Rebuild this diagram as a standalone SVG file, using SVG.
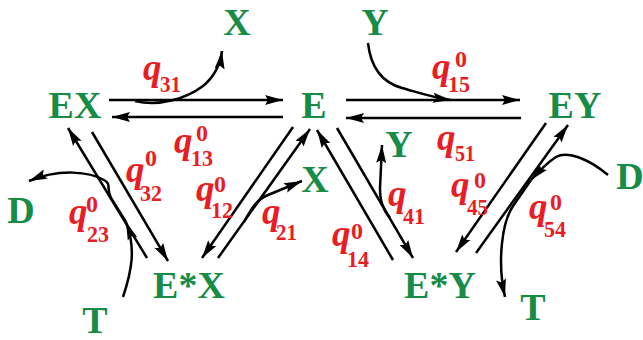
<svg xmlns="http://www.w3.org/2000/svg" width="643" height="340" viewBox="0 0 643 340">
<defs>
<marker id="ah" markerUnits="userSpaceOnUse" markerWidth="20" markerHeight="12" refX="18" refY="5" orient="auto" overflow="visible">
<path d="M0,0 L18,5 L0,10 L3,5 z" fill="#000"/>
</marker>
<style>
.n{font-family:"Liberation Serif","Times New Roman",serif;font-weight:bold;font-size:38px;fill:#178c47;text-anchor:middle}
.q{font-family:"Liberation Serif","Times New Roman",serif;font-weight:bold;font-style:italic;font-size:37px;fill:#ea1c24}
.s{font-family:"Liberation Serif","Times New Roman",serif;font-weight:bold;font-size:24px;fill:#ea1c24}
.c path{fill:none;stroke:#000;stroke-width:2.5}
.a{marker-end:url(#ah)}
</style>
</defs>
<rect width="643" height="340" fill="#fff"/>
<g id="connectors" class="c">
<path class="a" d="M109,100 L283,100"/>
<path class="a" d="M283,117 L112,117"/>
<path class="a" d="M346,100 L520,100"/>
<path class="a" d="M521,118 L346,118"/>
<path class="a" d="M147,258 L68,128"/>
<path class="a" d="M92,132 L168,261"/>
<path class="a" d="M293,127 L202,258"/>
<path class="a" d="M218,258 L310,129"/>
<path class="a" d="M393,260 L317,130"/>
<path class="a" d="M337,128 L413,258"/>
<path class="a" d="M546,123 L456,252"/>
<path class="a" d="M476,253 L568,125"/>
<path class="a" d="M135,101 C160,107 187,98 203,86 C214,77 220,66 222,51"/>
<path class="a" d="M368,43 C371,70 384,83 402,88 C420,93 435,98 451,100"/>
<path class="a" d="M123,297 C132,270 136,248 126,222"/>
<path class="a" d="M126,222 L111,198 C106,190 112,184 104,180 C90,172 60,168 29,181"/>
<path class="a" d="M244,222 C252,208 256,200 268,195 L302,181"/>
<path class="a" d="M390,218 C382,208 380,200 380,188 L382,145"/>
<path class="a" d="M608,175 C590,160 568,150 556,157 C548,162 540,170 531,180"/>
<path class="a" d="M531,180 L513,206 C502,222 497,262 505,297"/>
</g>
<g id="X_top"><text class="n" x="237" y="35">X</text></g>
<g id="Y_top"><text class="n" x="375" y="35">Y</text></g>
<g id="EX"><text class="n" x="75" y="118">EX</text></g>
<g id="E"><text class="n" x="314" y="118">E</text></g>
<g id="EY"><text class="n" x="575" y="118">EY</text></g>
<g id="Y_mid"><text class="n" x="399" y="157">Y</text></g>
<g id="X_mid"><text class="n" x="315" y="192">X</text></g>
<g id="D_left"><text class="n" x="21" y="223">D</text></g>
<g id="D_right"><text class="n" x="630" y="189">D</text></g>
<g id="EsX"><text class="n" x="189" y="298">E*X</text></g>
<g id="EsY"><text class="n" x="440" y="298">E*Y</text></g>
<g id="T_left"><text class="n" x="95" y="333">T</text></g>
<g id="T_right"><text class="n" x="533" y="320">T</text></g>
<g id="labels">
<text class="q" x="143" y="80">q</text><text class="s" x="160" y="92" textLength="21" lengthAdjust="spacingAndGlyphs">31</text>
<text class="q" x="174" y="153">q</text><text class="s" x="196" y="141">0</text><text class="s" x="191" y="166" textLength="22" lengthAdjust="spacingAndGlyphs">13</text>
<text class="q" x="432" y="79">q</text><text class="s" x="455" y="67">0</text><text class="s" x="448" y="92" textLength="22" lengthAdjust="spacingAndGlyphs">15</text>
<text class="q" x="437" y="150">q</text><text class="s" x="455" y="161" textLength="20" lengthAdjust="spacingAndGlyphs">51</text>
<text class="q" x="126" y="182">q</text><text class="s" x="145" y="166">0</text><text class="s" x="140" y="201" textLength="22" lengthAdjust="spacingAndGlyphs">32</text>
<text class="q" x="69" y="224">q</text><text class="s" x="86" y="212">0</text><text class="s" x="87" y="242" textLength="22" lengthAdjust="spacingAndGlyphs">23</text>
<text class="q" x="196" y="201">q</text><text class="s" x="214" y="192">0</text><text class="s" x="211" y="218" textLength="22" lengthAdjust="spacingAndGlyphs">12</text>
<text class="q" x="262" y="224">q</text><text class="s" x="276" y="240" textLength="21" lengthAdjust="spacingAndGlyphs">21</text>
<text class="q" x="332" y="246">q</text><text class="s" x="351" y="239">0</text><text class="s" x="347" y="267" textLength="22" lengthAdjust="spacingAndGlyphs">14</text>
<text class="q" x="388" y="206">q</text><text class="s" x="403" y="224" textLength="22" lengthAdjust="spacingAndGlyphs">41</text>
<text class="q" x="451" y="197">q</text><text class="s" x="474" y="188">0</text><text class="s" x="467" y="215" textLength="21" lengthAdjust="spacingAndGlyphs">45</text>
<text class="q" x="529" y="219">q</text><text class="s" x="550" y="210">0</text><text class="s" x="544" y="237" textLength="22" lengthAdjust="spacingAndGlyphs">54</text>
</g>
</svg>
